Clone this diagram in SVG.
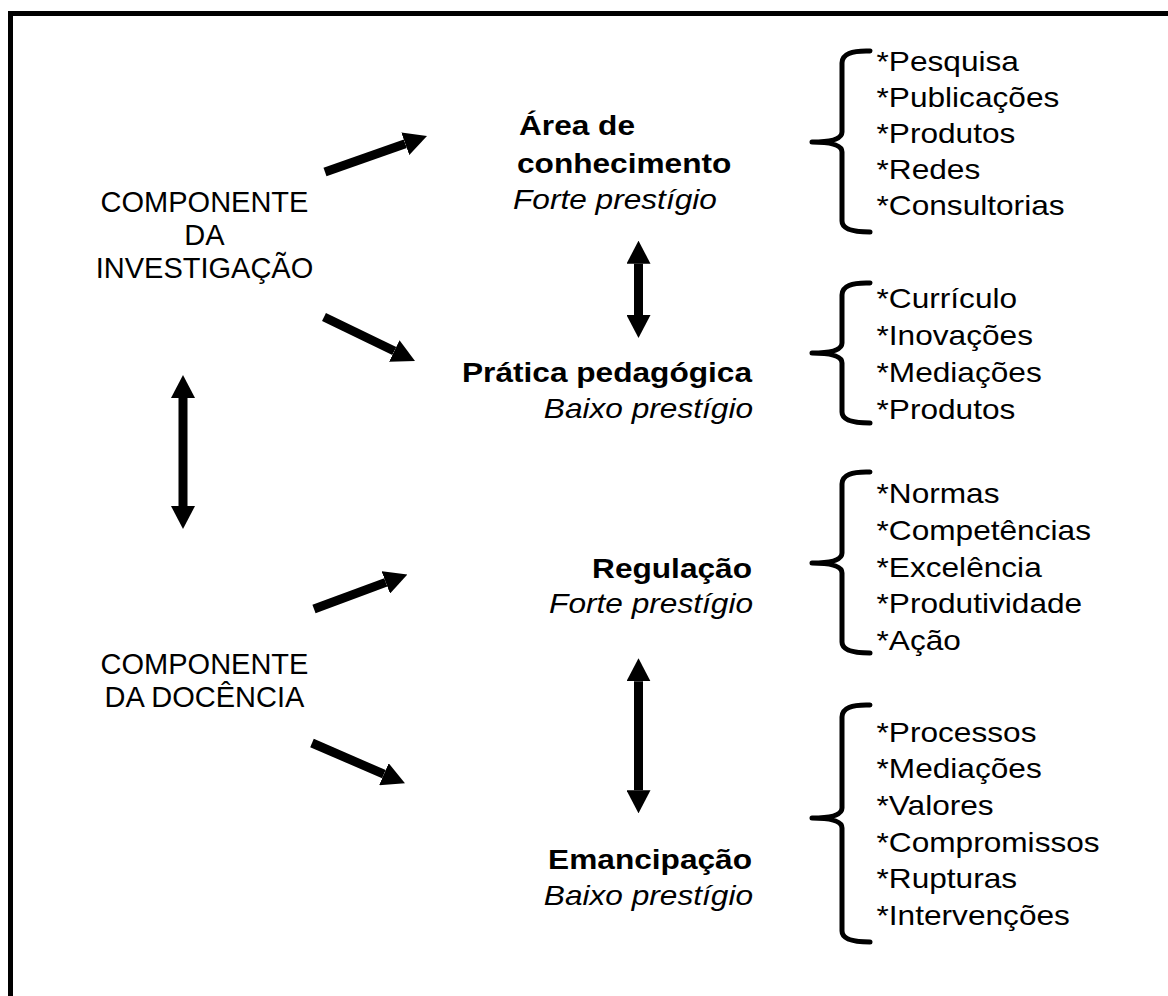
<svg xmlns="http://www.w3.org/2000/svg" width="1168" height="996" viewBox="0 0 1168 996">
<style>
.frame{stroke:#000;stroke-width:5;fill:none}
.comp{font-family:"Liberation Sans",Arial,sans-serif;font-size:29px;fill:#000;text-anchor:middle}
.t{font-family:"Liberation Sans",Arial,sans-serif;font-size:28px;fill:#000}
.b{font-weight:bold}
.i{font-style:italic}
.e{text-anchor:end}
.arrow{stroke:#000;stroke-width:9;fill:none;marker-end:url(#head)}
.darrow{stroke:#000;stroke-width:9;fill:none;marker-start:url(#head);marker-end:url(#head)}
.brace{stroke:#000;stroke-width:5;fill:none;stroke-linecap:round;stroke-linejoin:round}
</style>
<defs>
<marker id="head" markerUnits="userSpaceOnUse" viewBox="0 -12 23 24" refX="0" refY="0" markerWidth="23" markerHeight="24" orient="auto-start-reverse">
<path d="M0,-12 L23,0 L0,12 z" fill="#000"/>
</marker>
</defs>
<rect width="1168" height="996" fill="#fff"/>
<g id="frame">
<line class="frame" x1="8" y1="13.5" x2="1168" y2="13.5"/>
<line class="frame" x1="10.5" y1="11" x2="10.5" y2="996"/>
</g>
<g id="componente-investigacao">
<text class="comp" x="204.5" y="212">COMPONENTE</text>
<text class="comp" x="204.5" y="245">DA</text>
<text class="comp" x="204.5" y="278">INVESTIGAÇÃO</text>
</g>
<g id="componente-docencia">
<text class="comp" x="204.5" y="674">COMPONENTE</text>
<text class="comp" x="204.5" y="707">DA DOCÊNCIA</text>
</g>
<g id="area-conhecimento">
<text class="t b" transform="translate(519,135) scale(1.13,1)">Área de</text>
<text class="t b" transform="translate(517,173) scale(1.13,1)">conhecimento</text>
<text class="t i" transform="translate(513,209) scale(1.13,1)">Forte prestígio</text>
</g>
<g id="pratica-pedagogica">
<text class="t b e" transform="translate(752,382) scale(1.13,1)">Prática pedagógica</text>
<text class="t i e" transform="translate(753,418) scale(1.13,1)">Baixo prestígio</text>
</g>
<g id="regulacao">
<text class="t b e" transform="translate(752,578) scale(1.13,1)">Regulação</text>
<text class="t i e" transform="translate(753,613) scale(1.13,1)">Forte prestígio</text>
</g>
<g id="emancipacao">
<text class="t b e" transform="translate(752,869) scale(1.13,1)">Emancipação</text>
<text class="t i e" transform="translate(753,905) scale(1.13,1)">Baixo prestígio</text>
</g>
<g id="lista-area">
<path class="brace" d="M870,51 Q842,50 842,63 L842,132 Q842,142 812,142 Q842,142 842,152 L842,221 Q842,232 870,232"/>
<text class="t" transform="translate(876.5,71) scale(1.13,1)">*Pesquisa</text>
<text class="t" transform="translate(876.5,107) scale(1.13,1)">*Publicações</text>
<text class="t" transform="translate(876.5,143) scale(1.13,1)">*Produtos</text>
<text class="t" transform="translate(876.5,179) scale(1.13,1)">*Redes</text>
<text class="t" transform="translate(876.5,215) scale(1.13,1)">*Consultorias</text>
</g>
<g id="lista-pratica">
<path class="brace" d="M870,283 Q842,282 842,295 L842,343 Q842,353 812,353 Q842,353 842,363 L842,412 Q842,423 870,423"/>
<text class="t" transform="translate(876.5,308) scale(1.13,1)">*Currículo</text>
<text class="t" transform="translate(876.5,345) scale(1.13,1)">*Inovações</text>
<text class="t" transform="translate(876.5,382) scale(1.13,1)">*Mediações</text>
<text class="t" transform="translate(876.5,419) scale(1.13,1)">*Produtos</text>
</g>
<g id="lista-regulacao">
<path class="brace" d="M870,472 Q842,471 842,484 L842,553 Q842,563 812,563 Q842,563 842,573 L842,642 Q842,653 870,653"/>
<text class="t" transform="translate(876.5,503) scale(1.13,1)">*Normas</text>
<text class="t" transform="translate(876.5,540) scale(1.13,1)">*Competências</text>
<text class="t" transform="translate(876.5,577) scale(1.13,1)">*Excelência</text>
<text class="t" transform="translate(876.5,613) scale(1.13,1)">*Produtividade</text>
<text class="t" transform="translate(876.5,650) scale(1.13,1)">*Ação</text>
</g>
<g id="lista-emancipacao">
<path class="brace" d="M870,705 Q842,704 842,717 L842,808 Q842,818 812,818 Q842,818 842,828 L842,931 Q842,942 870,942"/>
<text class="t" transform="translate(876.5,742) scale(1.13,1)">*Processos</text>
<text class="t" transform="translate(876.5,778) scale(1.13,1)">*Mediações</text>
<text class="t" transform="translate(876.5,815) scale(1.13,1)">*Valores</text>
<text class="t" transform="translate(876.5,852) scale(1.13,1)">*Compromissos</text>
<text class="t" transform="translate(876.5,888) scale(1.13,1)">*Rupturas</text>
<text class="t" transform="translate(876.5,925) scale(1.13,1)">*Intervenções</text>
</g>
<g id="connectors">
<line class="arrow" x1="325" y1="172" x2="405.3" y2="143.7"/>
<line class="arrow" x1="324" y1="317" x2="394.3" y2="351"/>
<line class="arrow" x1="314" y1="609" x2="385.8" y2="582.4"/>
<line class="arrow" x1="312" y1="743" x2="383.9" y2="774.2"/>
<line class="darrow" x1="638.5" y1="263.7" x2="638.5" y2="315"/>
<line class="darrow" x1="183" y1="398" x2="183" y2="506"/>
<line class="darrow" x1="638.5" y1="681.3" x2="638.5" y2="790.3"/>
</g>
</svg>
